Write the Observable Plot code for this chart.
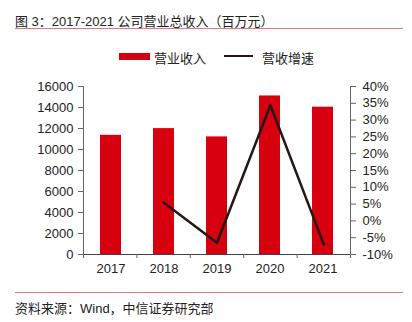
<!DOCTYPE html>
<html>
<head>
<meta charset="utf-8">
<script src="https://cdn.jsdelivr.net/npm/d3@7"></script>
<script src="https://cdn.jsdelivr.net/npm/@observablehq/plot@0.6"></script>
<style>
  html, body { margin: 0; padding: 0; background: #fff; }
  body { width: 412px; height: 322px; position: relative; overflow: hidden;
         font-family: "Liberation Sans", "Noto Sans CJK SC", sans-serif; color: #222; }
  .abs { position: absolute; }
  #title { left: 15px; top: 11px; font-size: 13px; white-space: nowrap; }
  #titleRule { left: 15px; top: 28px; width: 388px; height: 1px; background: #e07a7a; }
  #footRule { left: 15px; top: 292px; width: 388px; height: 1px; background: #e07a7a; }
  #foot { left: 15px; top: 298px; font-size: 13px; white-space: nowrap; }
  .leg { font-size: 13px; white-space: nowrap; top: 48px; }
  .chart { left: 0; top: 70px; }
  .chart svg { overflow: visible; }
</style>
</head>
<body>
<div id="title" class="abs">图 3：2017-2021 公司营业总收入（百万元）</div>
<div id="titleRule" class="abs"></div>
<div class="abs" style="left:119px;top:53px;width:31px;height:7px;background:#d7000f"></div>
<div class="abs leg" style="left:154px">营业收入</div>
<div class="abs" style="left:224px;top:55px;width:29px;height:2px;background:#231815"></div>
<div class="abs leg" style="left:262px">营收增速</div>
<div id="c1" class="abs chart"></div>
<div id="c2" class="abs chart"></div>
<div id="footRule" class="abs"></div>
<div id="foot" class="abs">资料来源：Wind，中信证券研究部</div>
<script>
const years = [2017, 2018, 2019, 2020, 2021];
const revenue = [11350, 11990, 11200, 15100, 14030];
const growthYears = [2018, 2019, 2020, 2021];
const growth = [5.5, -6.5, 34.4, -7.0];
const leftTicks = [0, 2000, 4000, 6000, 8000, 10000, 12000, 14000, 16000];
const rightTicks = [-10, -5, 0, 5, 10, 15, 20, 25, 30, 35, 40];

const W = 412, H = 215;
const M = {marginTop: 16, marginBottom: 31, marginLeft: 83, marginRight: 62};
const font = '"Liberation Sans", "Noto Sans CJK SC", sans-serif';
const style = {fontFamily: font, fontSize: "13px", color: "#222", background: "transparent"};

const revData = years.map((y, i) => ({year: String(y), value: revenue[i]}));
const gData = growthYears.map((y, i) => ({year: y, value: growth[i]}));
const boundaries = years.map(y => y - 0.5).concat([years[years.length - 1] + 0.5]);

const p1 = Plot.plot({
  width: W, height: H, ...M, style,
  x: {type: "band", domain: years.map(String), paddingInner: 0.6, paddingOuter: 0.3},
  y: {domain: [0, 16000]},
  marks: [
    Plot.barY(revData, {x: "year", y: "value", fill: "#d7000f"}),
    Plot.axisY({ticks: leftTicks, tickSize: 5, tickPadding: 5, stroke: "#666", fill: "#222", label: null, tickFormat: d => String(d)}),
    Plot.axisX({tickSize: 0, tickPadding: 9, fill: "#222", label: null})
  ]
});
document.getElementById("c1").appendChild(p1);

const p2 = Plot.plot({
  width: W, height: H, ...M, style,
  x: {type: "linear", domain: [boundaries[0], boundaries[boundaries.length - 1]]},
  y: {domain: [-10, 40]},
  marks: [
    Plot.ruleX([boundaries[0], boundaries[boundaries.length - 1]], {stroke: "#666", strokeWidth: 1}),
    Plot.ruleY([-10], {stroke: "#444", strokeWidth: 1.2}),
    Plot.axisX({ticks: boundaries, tickSize: 4, tickFormat: () => "", stroke: "#666", label: null}),
    Plot.axisY({anchor: "right", ticks: rightTicks, tickSize: 5, tickPadding: 7, stroke: "#666", fill: "#222", label: null, tickFormat: d => d + "%"}),
    Plot.line(gData, {x: "year", y: "value", stroke: "#231815", strokeWidth: 2.5})
  ]
});
document.getElementById("c2").appendChild(p2);
</script>
</body>
</html>
